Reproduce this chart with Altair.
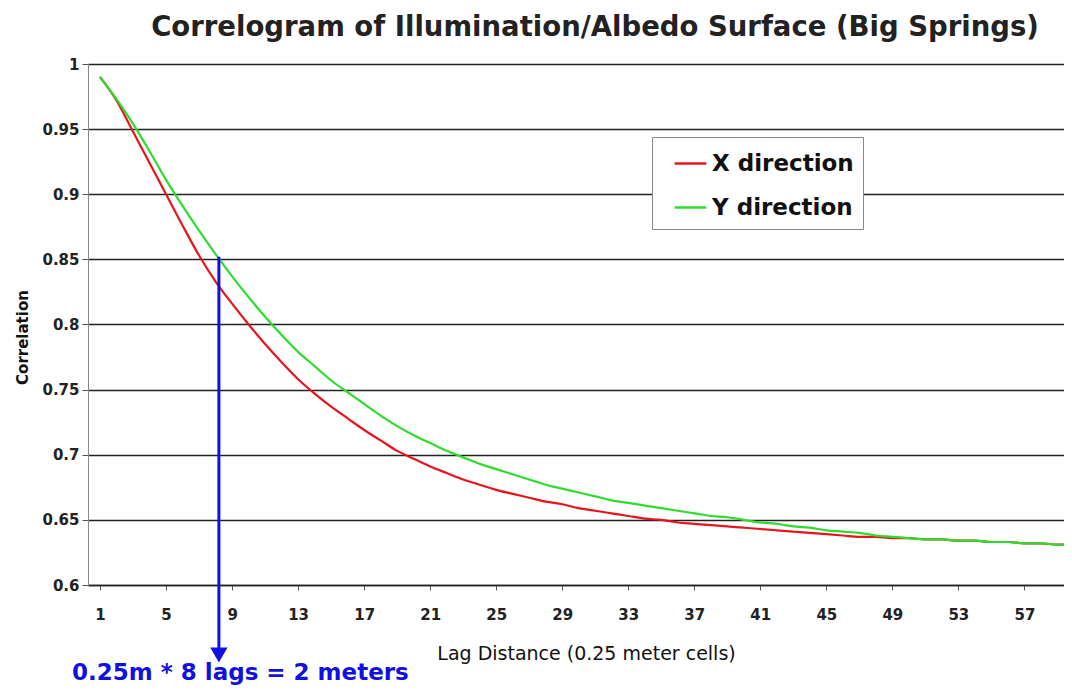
import altair as alt
import pandas as pd

lags = list(range(1, 61))
x_dir = [0.990, 0.972, 0.948, 0.924, 0.900, 0.876, 0.853, 0.833, 0.816, 0.800,
         0.785, 0.771, 0.758, 0.747, 0.737, 0.728, 0.719, 0.711, 0.703, 0.697,
         0.691, 0.686, 0.681, 0.677, 0.673, 0.670, 0.667, 0.664, 0.662, 0.659,
         0.657, 0.655, 0.653, 0.651, 0.650, 0.648, 0.647, 0.646, 0.645, 0.644,
         0.643, 0.642, 0.641, 0.640, 0.639, 0.638, 0.637, 0.637, 0.636, 0.636,
         0.635, 0.635, 0.634, 0.634, 0.633, 0.633, 0.632, 0.632, 0.631, 0.631]
y_dir = [0.990, 0.973, 0.954, 0.933, 0.911, 0.891, 0.872, 0.854, 0.837, 0.821,
         0.806, 0.792, 0.779, 0.768, 0.757, 0.748, 0.739, 0.730, 0.722, 0.715,
         0.709, 0.703, 0.698, 0.693, 0.689, 0.685, 0.681, 0.677, 0.674, 0.671,
         0.668, 0.665, 0.663, 0.661, 0.659, 0.657, 0.655, 0.653, 0.652, 0.650,
         0.648, 0.647, 0.645, 0.644, 0.642, 0.641, 0.640, 0.638, 0.637, 0.636,
         0.635, 0.635, 0.634, 0.634, 0.633, 0.633, 0.632, 0.632, 0.631, 0.631]
series_names = ["X direction", "Y direction"]
series_colors = ["#E8141C", "#2EDC2E"]
y_ticks = [0.6, 0.65, 0.7, 0.75, 0.8, 0.85, 0.9, 0.95, 1.0]
x_label_ticks = list(range(1, 61, 4))

marker_lag = 8.2
marker_top = 0.852
annotation = "0.25m * 8 lags = 2 meters"

rows = []
for i, lag in enumerate(lags):
    rows.append({"lag": lag, "corr": x_dir[i], "series": series_names[0]})
    rows.append({"lag": lag, "corr": y_dir[i], "series": series_names[1]})
df = pd.DataFrame(rows)

FONT = "DejaVu Sans"
W, H = 976, 521

xscale = alt.Scale(domain=[0.27, 59.4], nice=False, zero=False)
yscale = alt.Scale(domain=[0.6, 1.0], nice=False, zero=False)

label_expr = "indexof([" + ",".join(str(v) for v in x_label_ticks) + "], datum.value) >= 0 ? datum.label : ''"

lines = alt.Chart(df).mark_line(strokeWidth=2.2, interpolate="monotone", clip=True).encode(
    x=alt.X("lag:Q", scale=xscale,
            axis=alt.Axis(title="Lag Distance (0.25 meter cells)", values=lags,
                          labelExpr=label_expr, grid=False, tickSize=5,
                          tickColor="#555555", domainColor="#222222", domainWidth=1.5,
                          labelFont=FONT, labelFontSize=15, labelFontWeight="bold",
                          labelColor="#222222", labelPadding=17,
                          titleFont=FONT, titleFontSize=19, titleFontWeight="normal",
                          titleColor="#111111", titlePadding=22, titleX=498)),
    y=alt.Y("corr:Q", scale=yscale,
            axis=alt.Axis(title="Correlation", values=y_ticks, format="~g",
                          grid=True, gridColor="#222222", gridWidth=1.4,
                          tickSize=6, tickColor="#555555", domainColor="#888888",
                          labelFont=FONT, labelFontSize=15, labelFontWeight="bold",
                          labelColor="#222222", labelPadding=3,
                          titleFont=FONT, titleFontSize=15, titleFontWeight="bold",
                          titleColor="#111111", titlePadding=11, titleY=273)),
    color=alt.Color("series:N",
                    scale=alt.Scale(domain=series_names, range=series_colors),
                    legend=alt.Legend(title=None, orient="none", legendX=564, legendY=73,
                                      symbolType="stroke", symbolStrokeWidth=2.5,
                                      symbolSize=1000, labelFont=FONT, labelFontSize=23,
                                      labelFontWeight="bold",
                                      labelColor="#111111", labelLimit=400,
                                      fillColor="#FFFFFF", strokeColor="#888888",
                                      padding=9, rowPadding=14, symbolOffset=12,
                                      labelOffset=4)),
)

marker_df = pd.DataFrame({"lag": [marker_lag], "corr": [marker_top], "text": [annotation]})

rule = alt.Chart(marker_df).mark_rule(color="#1010E0", strokeWidth=3, clip=False).encode(
    x="lag:Q", y="corr:Q", y2=alt.value(589)
)
arrow = alt.Chart(marker_df).mark_point(shape="triangle-down", filled=True, color="#1010E0",
                                        size=300, opacity=1, clip=False).encode(
    x="lag:Q", y=alt.value(591)
)
label = alt.Chart(marker_df).mark_text(align="left", baseline="alphabetic", font=FONT,
                                       fontSize=23, fontWeight="bold", color="#1010E0",
                                       clip=False).encode(
    x=alt.value(-16), y=alt.value(616), text="text:N"
)

chart = alt.layer(lines, rule, arrow, label).properties(
    width=W, height=H,
    title=alt.TitleParams("Correlogram of Illumination/Albedo Surface (Big Springs)",
                          font=FONT, fontSize=27.5, fontWeight="bold", color="#222222",
                          anchor="middle", offset=16, dx=19),
    autosize=alt.AutoSizeParams(type="none"),
    padding={"left": 80, "top": 56, "right": 0, "bottom": 100},
).configure_view(fill="#FFFFCC", stroke=None).configure(background="#FFFFFF")

chart.save("out.html", embed_options={"renderer": "svg", "actions": False})
